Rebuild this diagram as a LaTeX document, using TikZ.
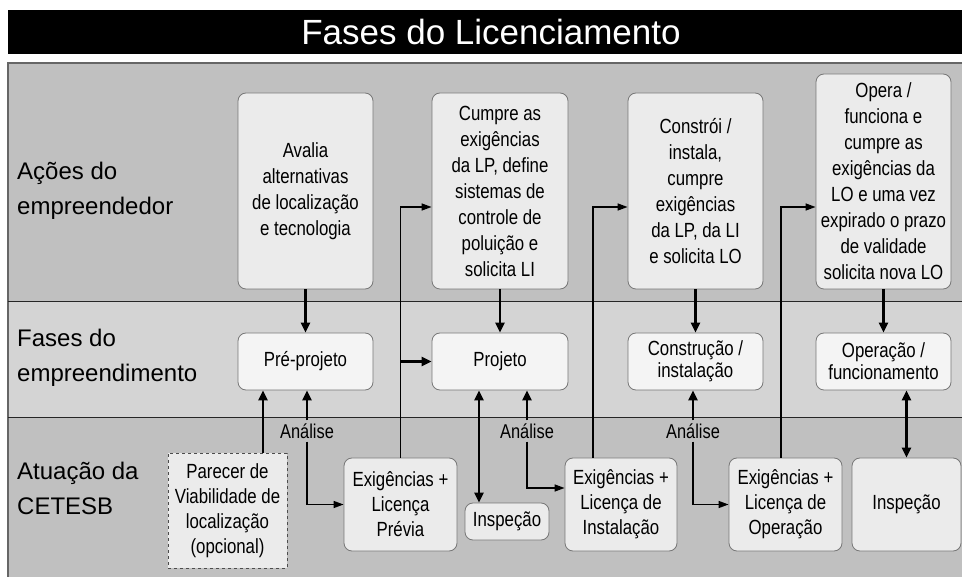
\documentclass[tikz,border=0pt]{standalone}
\usepackage{fontspec}
\setmainfont{Liberation Sans}
\newfontfamily\narrowfont[FakeStretch=0.82]{Liberation Sans}
\usetikzlibrary{arrows.meta}
\definecolor{laneA}{HTML}{C0C0C0}
\definecolor{laneB}{HTML}{D4D4D4}
\definecolor{boxfill}{HTML}{EBEBEB}
\definecolor{phasefill}{HTML}{F4F4F4}
\definecolor{boxline}{HTML}{777777}
\begin{document}
\begin{tikzpicture}[x=1pt,y=-1pt,
    actbox/.style={draw=boxline, fill=boxfill, rounded corners=8pt, line width=0.8pt,
      align=center, inner sep=0pt, font={\narrowfont\fontsize{20.5}{26}\selectfont}},
    phasebox/.style={actbox, fill=phasefill, font={\narrowfont\fontsize{20.5}{22}\selectfont}},
    cetbox/.style={actbox, font={\narrowfont\fontsize{20.5}{25}\selectfont}},
    lanelabel/.style={anchor=west, align=left, inner sep=0pt, font={\fontsize{24}{35}\selectfont}},
    analabel/.style={inner xsep=0pt, inner ysep=3pt, font={\narrowfont\fontsize{20}{24}\selectfont}},
    bigarrow/.style={line width=2.6pt, -{Triangle[length=10pt,width=9pt]}},
    bothway/.style={line width=2.6pt, {Triangle[length=10pt,width=9pt]}-{Triangle[length=10pt,width=9pt]}},
    thinarrow/.style={line width=1.3pt, -{Triangle[length=10pt,width=7pt]}}]
  \useasboundingbox (0,0) rectangle (962,577);
  \fill (8,10) rectangle (962,54);
  \node [text=white, font={\fontsize{35}{40}\selectfont}] (title) at (491,32) {Fases do Licenciamento};
  \fill [laneA] (8,63) rectangle (962,302);
  \fill [laneB] (8,302) rectangle (962,418);
  \fill [laneA] (8,418) rectangle (962,577);
  \draw [line width=1.5pt, black!60] (962,63) -- (8,63) -- (8,577);
  \draw [line width=1pt, black!85] (8,302) -- (962,302);
  \draw [line width=1pt, black!85] (8,418) -- (962,418);
  \node [lanelabel] (acoes) at (17,191) {Ações do\\empreendedor};
  \node [lanelabel] (fases) at (17,358) {Fases do\\empreendimento};
  \node [lanelabel] (atuacao) at (17,488) {Atuação da\\CETESB};
  \node [actbox, minimum width=135pt, minimum height=196pt] (avalia) at (305.5,191)
    {Avalia\\alternativas\\de localização\\e tecnologia};
  \node [actbox, minimum width=136pt, minimum height=196pt] (cumpre) at (500,191)
    {Cumpre as\\exigências\\da LP, define\\sistemas de\\controle de\\poluição e\\solicita LI};
  \node [actbox, minimum width=135pt, minimum height=196pt] (constroi) at (695.5,191)
    {Constrói /\\instala,\\cumpre\\exigências\\da LP, da LI\\e solicita LO};
  \node [actbox, minimum width=135pt, minimum height=215pt] (opera) at (883.5,181.5)
    {Opera /\\funciona e\\cumpre as\\exigências da\\LO e uma vez\\expirado o prazo\\de validade\\solicita nova LO};
  \node [phasebox, minimum width=135pt, minimum height=57pt] (preproj) at (305.5,361.5) {Pré-projeto};
  \node [phasebox, minimum width=136pt, minimum height=57pt] (projeto) at (500,361.5) {Projeto};
  \node [phasebox, minimum width=135pt, minimum height=57pt] (construcao) at (695.5,361.5) {Construção /\\instalação};
  \node [phasebox, minimum width=135pt, minimum height=57pt] (operacao) at (883.5,361.5) {Operação /\\funcionamento};
  \node [cetbox, sharp corners, dashed, draw=black!70, minimum width=119pt, minimum height=115pt] (parecer) at (227.5,510.5)
    {Parecer de\\Viabilidade de\\localização\\(opcional)};
  \node [cetbox, minimum width=113pt, minimum height=93pt] (exlp) at (400.5,504.5) {Exigências +\\Licença\\Prévia};
  \node [cetbox, minimum width=84pt, minimum height=37pt] (inspA) at (507,521.5) {Inspeção};
  \node [cetbox, minimum width=112pt, minimum height=93pt] (exli) at (621,504.5) {Exigências +\\Licença de\\Instalação};
  \node [cetbox, minimum width=113pt, minimum height=93pt] (exlo) at (785.5,504.5) {Exigências +\\Licença de\\Operação};
  \node [cetbox, minimum width=109pt, minimum height=93pt] (inspB) at (906.5,504.5) {Inspeção};
  \node [analabel] (anapre) at (307,431) {Análise};
  \node [analabel] (anaproj) at (527,431) {Análise};
  \node [analabel] (anacons) at (693,431) {Análise};
  \draw [bigarrow] (avalia) -- (preproj);
  \draw [bigarrow] (cumpre) -- (projeto);
  \draw [bigarrow] (constroi) -- (construcao);
  \draw [bigarrow] (opera) -- (operacao);
  \draw [bigarrow] ([xshift=35.5pt]parecer.north) -- ([xshift=35.5pt]parecer.north |- preproj.south);
  \draw [bigarrow] (anapre) -- (preproj.south -| anapre);
  \draw [thinarrow] (anapre) |- (exlp);
  \draw [thinarrow] (exlp) |- ([yshift=-16pt]cumpre.west);
  \draw [bigarrow] (exlp |- projeto) -- (projeto);
  \draw [bothway] ([xshift=-21pt]projeto.south) -- ([xshift=-21pt]projeto.south |- inspA.north);
  \draw [bigarrow] (anaproj) -- (projeto.south -| anaproj);
  \draw [thinarrow] (anaproj) |- ([yshift=16.5pt]exli.west);
  \draw [thinarrow] ([xshift=-28pt]exli.north) |- ([yshift=-16pt]constroi.west);
  \draw [bigarrow] (anacons) -- (construcao.south -| anacons);
  \draw [thinarrow] (anacons) |- (exlo);
  \draw [thinarrow] ([xshift=-4.5pt]exlo.north) |- ([yshift=-25.5pt]opera.west);
  \draw [bothway] (inspB) -- (inspB |- operacao.south);
\end{tikzpicture}
\end{document}
